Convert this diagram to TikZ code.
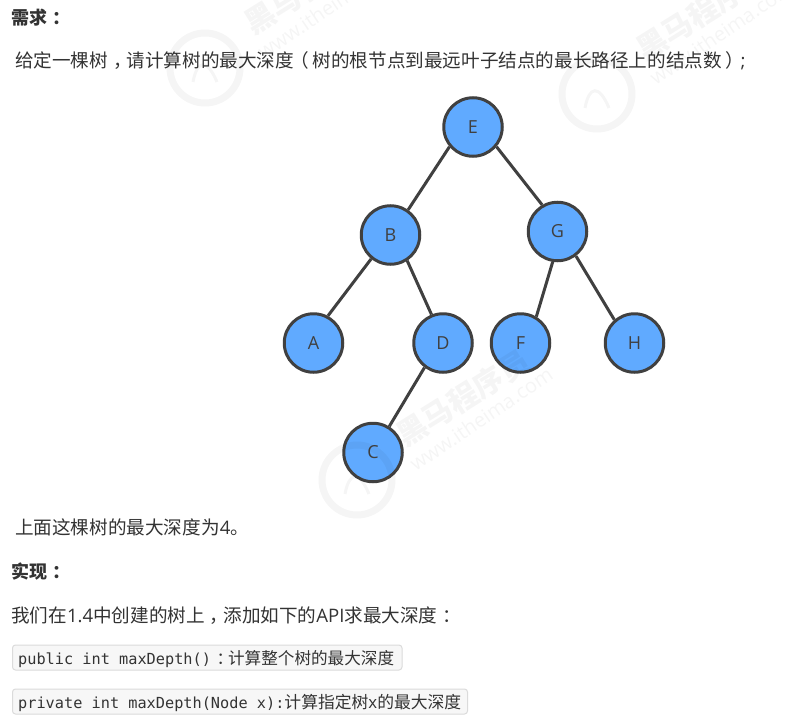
\documentclass[tikz,border=0pt]{standalone}
\usepackage{fontspec}
\usetikzlibrary{calc}
\setmainfont{Open Sans}
\setmonofont{DejaVu Sans Mono}
\newfontfamily\cjk{Noto Sans CJK SC}
\definecolor{txt}{HTML}{333333}
\definecolor{nodeblue}{HTML}{60AAFF}
\definecolor{ringc}{HTML}{404040}
\newcommand{\pc}[1]{\hspace{5pt}#1\hspace{-5pt}}
\newcommand{\lp}{\hspace{-4pt}（\hspace{4pt}}
\newcommand{\rp}{\hspace{4pt}）\hspace{-4pt}}
\newcommand{\lat}[1]{{\fontspec{Open Sans}#1}}
\tikzset{
 x=1pt,y=-1pt,
 tn/.style={circle,draw=ringc,line width=3pt,fill=nodeblue,minimum size=58.5pt,inner sep=0pt,text=ringc,font=\fontsize{18}{18}\selectfont},
 edge/.style={draw=ringc,line width=3pt},
 line/.style={anchor=base west,inner sep=0pt,text=txt,font=\fontsize{18.6}{20}\selectfont\cjk},
 head/.style={anchor=base west,inner sep=0pt,text=txt,font=\fontsize{18}{20}\selectfont\cjk\bfseries},
 codebox/.style={draw=black!14,fill=black!3,rounded corners=3pt,line width=1pt},
 code/.style={anchor=base west,inner sep=0pt,text=txt,font=\fontsize{15.25}{17}\selectfont\ttfamily},
 wmt/.style={text=black,opacity=.04,inner sep=0pt,font=\fontsize{30}{30}\selectfont\cjk\bfseries},
 wmu/.style={text=black,opacity=.04,inner sep=0pt,font=\fontsize{20}{20}\selectfont},
 wmc/.style={circle,draw=black,opacity=.04,line width=7pt,minimum size=70pt,inner sep=0pt},
}
\begin{document}
\begin{tikzpicture}
\useasboundingbox (0,0) rectangle (806,725);
\fill[white] (0,0) rectangle (806,725);
% text
\node[head] (h1) at (11,25) {需求\pc{：}};
\node[line] (t1) at (15,67.5) {给定一棵树\pc{，}请计算树的最大深度\lp 树的根节点到最远叶子结点的最长路径上的结点数\rp\lat{;}};
\node[line] (t2) at (15,534.5) {上面这棵树的最大深度为\lat{4}。};
\node[head] (h2) at (11,578.5) {实现\pc{：}};
\node[line] (t3) at (11,622) {我们在\lat{1.4}中创建的树上\pc{，}添加如下的\lat{API}求最大深度\pc{：}};
\node[codebox,minimum width=389.5pt,minimum height=25pt,anchor=north west,inner sep=0pt] (b1) at (12,644.5) {};
\node[codebox,minimum width=455pt,minimum height=25pt,anchor=north west,inner sep=0pt] (b2) at (12,688.5) {};
\node[code] (c1) at (18,664) {public int maxDepth()\hspace{0.5pt}{\fontsize{16.6}{17}\selectfont\cjk \pc{：}计算整个树的最大深度}};
\node[code] (c2) at (18,708) {private int maxDepth(Node x):{\fontsize{16.8}{17}\selectfont\cjk 计算指定树\lat{x}的最大深度}};
% tree
\node[tn] (E) at (473,127) {E};
\node[tn] (B) at (390.5,235) {B};
\node[tn] (G) at (557.5,231.5) {G};
\node[tn] (A) at (313.5,343) {A};
\node[tn] (D) at (443,343) {D};
\node[tn] (F) at (520.5,343) {F};
\node[tn] (H) at (634.5,343) {H};
\node[tn] (C) at (373,452.5) {C};
\draw[edge] (E.220) -- (B.55);
\draw[edge] (E.-40) -- (G.120);
\draw[edge] (B.231) -- (A.62);
\draw[edge] (B.-57) -- (D.112);
\draw[edge] (D.233) -- (C.58);
\draw[edge] (G.261) -- (F.59);
\draw[edge] (G.-53) -- (H.131);
% watermarks (drawn over everything, as in the reference)
\foreach \n/\cx/\cy in {a/205/68,b/597/94,c/357/480}{
  \node[wmc] (w\n) at (\cx,\cy) {};
  \draw[black,opacity=.04,line width=3pt] ([shift={(-12,14)}]w\n.center) .. controls ([shift={(-8,-8)}]w\n.center) and ([shift={(2,-10)}]w\n.center) .. ([shift={(12,14)}]w\n.center);
  \node[wmt,rotate=32] (wt\n) at ($(\cx,\cy)+(106,-82)$) {黑马程序员};
  \node[wmu,rotate=34] (wu\n) at ($(\cx,\cy)+(124,-61)$) {www.itheima.com};
}
\end{tikzpicture}
\end{document}
